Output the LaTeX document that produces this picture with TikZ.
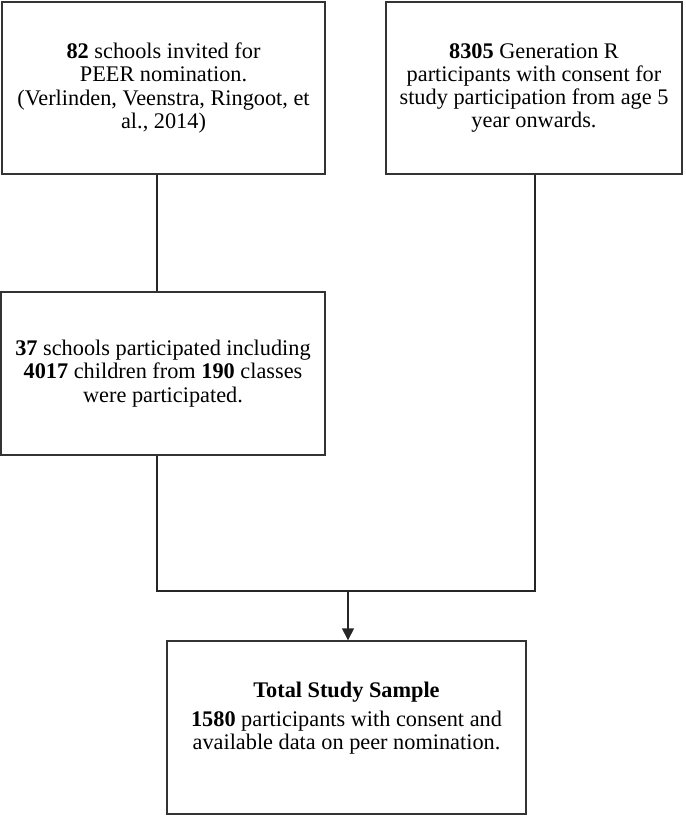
\documentclass[tikz,border=0pt]{standalone}
\usepackage{fontspec}
\setmainfont{Liberation Serif}
\usetikzlibrary{arrows.meta}
\begin{document}
\begin{tikzpicture}[x=1pt,y=-1pt,
 box/.style={draw=black!80,line width=1.4pt,inner sep=0pt,align=center,font=\fontsize{22.3}{23.2}\selectfont},
 link/.style={draw=black!85,line width=1.4pt}]
 \useasboundingbox (0,0) rectangle (685,816);
 % boxes
 \node[box,minimum width=323pt,minimum height=172pt] (invited) at (163.5,88) {\textbf{82} schools invited for\\ PEER nomination.\\ (Verlinden, Veenstra, Ringoot, et\\ al., 2014)};
 \node[box,minimum width=296pt,minimum height=172pt] (genr) at (534,88) {\textbf{8305} Generation R\\ participants with consent for\\ study participation from age 5\\ year onwards.};
 \node[box,minimum width=324pt,minimum height=163pt] (joined) at (163,373.5) {\textbf{37} schools participated including\\ \textbf{4017} children from \textbf{190} classes\\ were participated.};
 \node[box,minimum width=359pt,minimum height=173pt] (total) at (346.5,727.5) {\textbf{Total Study Sample}\\[5pt] \textbf{1580} participants with consent and\\ available data on peer nomination.\\ \mbox{}};
 % connectors
 \coordinate (jl) at (157,591);
 \coordinate (jr) at (535,591);
 \coordinate (jm) at (348,591);
 \draw[link] (invited.south -| jl) -- (joined.north -| jl);
 \draw[link] (joined.south -| jl) -- (jl) -- (jr) -- (genr.south -| jr);
 \draw[link,-{Triangle[width=12pt,length=12pt]}] (jm) -- (total.north -| jm);
\end{tikzpicture}
\end{document}
